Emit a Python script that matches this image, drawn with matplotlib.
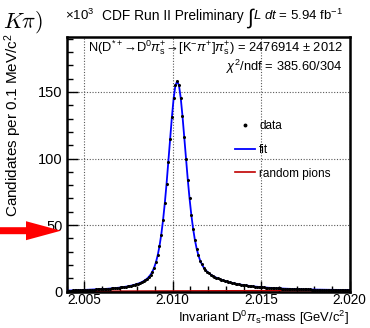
import numpy as np
import matplotlib
matplotlib.use("Agg")
import matplotlib.pyplot as plt
from matplotlib.patches import FancyArrow
from matplotlib.ticker import MultipleLocator, FormatStrFormatter

plt.rcParams['font.family'] = ['Liberation Sans', 'DejaVu Sans']
plt.rcParams['mathtext.fontset'] = 'custom'
plt.rcParams['mathtext.rm'] = 'Liberation Sans'
plt.rcParams['mathtext.it'] = 'Liberation Sans:italic'
plt.rcParams['mathtext.bf'] = 'Liberation Sans:bold'

# D0 pi_s invariant mass, 0.1 MeV bins starting at 2.004 GeV (candidates in thousands)
mass_lo = 2.004
bin_width = 0.0001
counts = [
    0.76, 0.78, 0.81, 0.84, 0.90, 0.96, 1.02, 1.07, 1.13, 1.17,
    1.22, 1.27, 1.34, 1.40, 1.46, 1.51, 1.58, 1.65, 1.72, 1.80,
    1.88, 1.96, 2.06, 2.16, 2.25, 2.37, 2.50, 2.62, 2.76, 2.91,
    3.08, 3.27, 3.46, 3.68, 3.91, 4.18, 4.46, 4.79, 5.15, 5.56,
    6.01, 6.54, 7.14, 7.86, 8.71, 9.77, 11.09, 12.81, 15.06, 18.06,
    22.04, 27.29, 34.11, 42.76, 53.45, 66.24, 80.98, 97.28, 114.32, 130.86,
    145.11, 154.92, 158.00, 155.08, 145.67, 132.01, 116.13, 99.77, 84.13, 69.95,
    57.63, 47.34, 38.97, 32.36, 27.25, 23.33, 20.36, 18.09, 16.31, 14.91,
    13.76, 12.78, 11.94, 11.20, 10.54, 9.94, 9.40, 8.88, 8.41, 7.99,
    7.59, 7.21, 6.87, 6.55, 6.24, 5.96, 5.69, 5.44, 5.22, 4.99,
    4.77, 4.59, 4.40, 4.22, 4.06, 3.91, 3.76, 3.63, 3.50, 3.37,
    3.26, 3.14, 3.03, 2.93, 2.83, 2.74, 2.67, 2.58, 2.51, 2.43,
    2.36, 2.30, 2.23, 2.18, 2.12, 2.06, 2.02, 1.96, 1.92, 1.88,
    1.84, 1.80, 1.75, 1.72, 1.69, 1.65, 1.63, 1.59, 1.56, 1.53,
    1.50, 1.48, 1.45, 1.44, 1.42, 1.39, 1.37, 1.36, 1.34, 1.32,
    1.30, 1.29, 1.27, 1.26, 1.24, 1.24, 1.22, 1.21, 1.20, 1.19,
]

# random pion component
bkg_mass = [2.0040, 2.0044, 2.005, 2.006, 2.007, 2.008, 2.009, 2.010, 2.011,
            2.012, 2.013, 2.014, 2.015, 2.016, 2.017, 2.018, 2.019, 2.020]
bkg_counts = [0.0, 0.0, 0.15, 0.24, 0.31, 0.36, 0.41, 0.45, 0.49,
              0.52, 0.56, 0.59, 0.62, 0.65, 0.67, 0.70, 0.73, 0.75]

W, H = 370, 328
fig = plt.figure(figsize=(W / 100, H / 100), dpi=100)
ax = fig.add_axes([0.180, 0.111, 0.765, 0.775])
renderer = fig.canvas.get_renderer()


def fit_width(txt, width_px):
    # shrink or grow a text so it spans the given width in pixels
    w = txt.get_window_extent(renderer).width
    txt.set_fontsize(txt.get_fontsize() * width_px / w)


centers = mass_lo + bin_width * (np.arange(len(counts)) + 0.5)

ax.fill_between(bkg_mass, 0, bkg_counts, color='#f08080', alpha=0.5, lw=0)
bkg_line, = ax.plot(bkg_mass, bkg_counts, color='#c00000', lw=1.2, label='random pions')
fit_line, = ax.plot(centers, counts, color='#0000ff', lw=1.3, label='fit')
data_pts, = ax.plot(centers, counts, 'o', ms=1.2, color='black', label='data')

ax.set_xlim(2.004, 2.020)
ax.set_ylim(0, 191)
ax.xaxis.set_major_locator(MultipleLocator(0.005))
ax.xaxis.set_minor_locator(MultipleLocator(0.001))
ax.xaxis.set_major_formatter(FormatStrFormatter('%.3f'))
ax.yaxis.set_major_locator(MultipleLocator(50))
ax.yaxis.set_minor_locator(MultipleLocator(10))
ax.tick_params(which='both', direction='in', top=False, right=False,
               labelsize=10.5, pad=3)
ax.tick_params(axis='x', pad=1, labelsize=9.8)
ax.tick_params(which='major', length=8, width=1)
ax.tick_params(which='minor', length=4, width=1)
for sp in ax.spines.values():
    sp.set_linewidth(1.8)
ax.grid(True, which='major', linestyle=(0, (1, 1.5)), color='0.35', lw=0.8)

# axis titles placed in figure pixels, right/bottom aligned
fig.text(349 / W, 1 / H, r"Invariant D$^{0}\pi_{\rm s}$-mass [GeV/c$^{2}$]",
         fontsize=9.4, ha='right', va='bottom')
fig.text(13 / W, 1 - 217 / H, r"Candidates per 0.1 MeV/c$^{2}$",
         rotation=90, ha='center', va='bottom', fontsize=11)

# title line: text, a tall integral sign, then the luminosity
base_y = 1 - 20 / H
fig.text(65 / W, base_y, r"$\times$10$^{3}$", fontsize=9.5, va='baseline')
t1 = fig.text(102 / W, base_y, "CDF Run II Preliminary ", fontsize=10, va='baseline')
fit_width(t1, 146)
x1 = t1.get_window_extent(renderer).x1
t2 = fig.text(x1 / W, 1 - 24 / H, "\u222b", fontsize=15, va='baseline')
x2 = t2.get_window_extent(renderer).x1
t3 = fig.text(x2 / W, base_y, r"$L$ $dt$ = 5.94 fb$^{-1}$", fontsize=10, va='baseline')
fit_width(t3, 343 - x2)

yield_txt = fig.text(88 / W, 1 - 48 / H,
                     "N(D$^{*+}$\u2192D$^{0}$$\\pi^{+}_{\\rm s}$\u2192"
                     "[K$^{-}$$\\pi^{+}$]$\\pi^{+}_{\\rm s}$) = 2476914 \u00b1 2012",
                     fontsize=10, va='center')
fit_width(yield_txt, 254)
fig.text(342 / W, 1 - 67 / H, r"$\chi^{2}$/ndf = 385.60/304",
         fontsize=9.3, va='center', ha='right')

ax.legend(handles=[data_pts, fit_line, bkg_line], loc='upper left',
          bbox_to_anchor=(0.595, 0.675), frameon=False, fontsize=8.5,
          handlelength=1.7, handletextpad=0.35, borderpad=0,
          borderaxespad=0, labelspacing=1.0, markerscale=1.5)

# partial label from the neighbouring panel and the pointer arrow
fig.text(3 / W, 1 - 28 / H, r"$K\pi)$", math_fontfamily='cm', fontsize=16,
         va='baseline')
arrow = FancyArrow(0, (H - 230.7) / 100, 0.61, 0, width=0.07, head_width=0.19,
                   head_length=0.35, length_includes_head=True,
                   transform=fig.dpi_scale_trans, color='red', lw=0)
fig.add_artist(arrow)

fig.savefig('out.png', dpi=100)
